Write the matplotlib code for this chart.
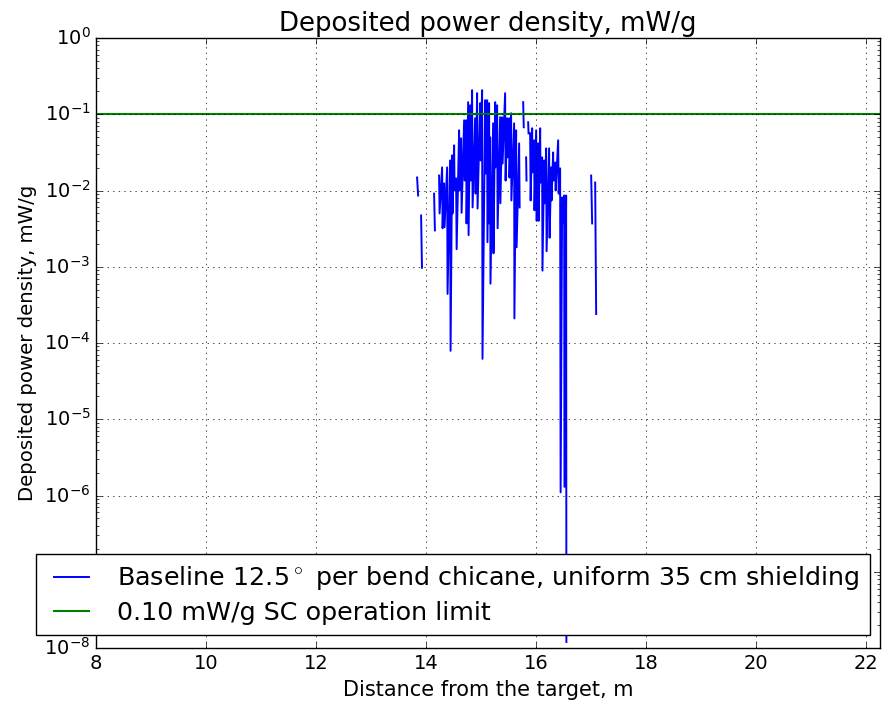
import numpy as np
import matplotlib
matplotlib.use("Agg")
import matplotlib.pyplot as plt

plt.style.use('classic')

nan = np.nan
# distance from the target, m (nan = zero deposition -> gap on log axis)
dist = [13.836, 13.855, nan,
        13.909, 13.925, nan,
        14.145, 14.16, nan,
        14.236, 14.245, 14.291, 14.30, 14.327, 14.335, 14.382, 14.39,
        14.436, 14.445, 14.473, 14.48, 14.509, 14.518, 14.545, 14.555,
        14.60, 14.61, 14.636, 14.645, 14.691, 14.70, 14.727, 14.735,
        14.764, 14.772, 14.80, 14.81, 14.836, 14.845, 14.891, 14.90,
        14.927, 14.935, 14.982, 14.99, 15.018, 15.025, 15.073, 15.08,
        15.109, 15.115, 15.145, 15.15, 15.164, 15.17, 15.218, 15.225,
        15.255, 15.26, 15.291, 15.30, 15.345, 15.35, 15.382, 15.39,
        15.436, 15.445, 15.473, 15.48, 15.509, 15.515, 15.545, 15.55,
        15.60, 15.605, 15.636, 15.645, 15.691, 15.70, nan,
        15.764, 15.775, nan,
        15.818, 15.825, nan,
        15.855, 15.862, nan,
        15.891, 15.90, 15.927, 15.935, 15.964, 15.97, 16.0, 16.01,
        16.036, 16.045, 16.073, 16.08, 16.109, 16.115, 16.145, 16.155,
        16.182, 16.19, 16.236, 16.245, 16.273, 16.28, 16.309, 16.315,
        16.345, 16.355, 16.40, 16.41, 16.436, 16.445, 16.473, 16.48,
        16.509, 16.515, 16.545, 16.55, nan,
        17.0, 17.018, nan,
        17.073, 17.091]

# deposited power density, mW/g
power = [0.0148, 0.0086, nan,
         0.0047, 0.00097, nan,
         0.0091, 0.0030, nan,
         0.0157, 0.0050, 0.0201, 0.0032, 0.0124, 0.0033, 0.0201, 0.00044,
         0.0248, 7.9e-5, 0.0289, 0.0050, 0.0391, 0.0100, 0.0144, 0.0017,
         0.0616, 0.0100, 0.0483, 0.0051, 0.0834, 0.0135, 0.0834, 0.0037,
         0.144, 0.0026, 0.131, 0.0135, 0.207, 0.0060, 0.0886, 0.0091,
         0.189, 0.0058, 0.140, 0.0248, 0.207, 6.2e-5, 0.153, 0.0167,
         0.153, 0.0021, 0.140, 0.0037, 0.0498, 0.00060, 0.0761, 0.0015,
         0.144, 0.0201, 0.131, 0.0032, 0.0914, 0.0068, 0.0914, 0.0226,
         0.189, 0.0135, 0.0886, 0.0272, 0.0886, 0.0148, 0.103, 0.0074,
         0.0761, 0.00021, 0.0616, 0.0018, 0.0415, 0.0060, nan,
         0.144, 0.0675, nan,
         0.0272, 0.0135, nan,
         0.0785, 0.0562, nan,
         0.0562, 0.0074, 0.0655, 0.0173, 0.0455, 0.0055, 0.0616, 0.0040,
         0.0415, 0.0040, 0.0655, 0.0127, 0.0272, 0.00089, 0.0248, 0.0068,
         0.0357, 0.0016, 0.0357, 0.0024, 0.0201, 0.0074, 0.0316, 0.0135,
         0.0233, 0.0100, 0.0455, 0.0091, 0.0195, 1.1e-6, 0.0081, 0.0037,
         0.0086, 1.3e-6, 0.0086, 1.2e-8, nan,
         0.0157, 0.0037, nan,
         0.0127, 0.00024]

limit = 0.10

fig = plt.figure(figsize=(8.84, 7.05), dpi=100)
ax = fig.add_axes([96/884, 1 - 648/705, 784/884, 610/705])

ax.plot(dist, power, color='b', lw=1.4,
        label=r'Baseline 12.5$^\circ$ per bend chicane, uniform 35 cm shielding')
ax.axhline(limit, color='g', lw=1.5, label='0.10 mW/g SC operation limit')

ax.set_yscale('log')
ax.set_xlim(8, 22.25)
ax.set_ylim(1e-8, 1)
ax.grid(True)
ax.tick_params(labelsize=14)
ax.set_xlabel('Distance from the target, m', fontsize=15)
ax.set_ylabel('Deposited power density, mW/g', fontsize=14.2)
ax.set_title('Deposited power density, mW/g', fontsize=18.7)

ax.legend(loc='lower left', bbox_to_anchor=(36/884, 1 - 635/705),
          bbox_transform=fig.transFigure, borderaxespad=0, fontsize=18.25,
          handlelength=2.0, labelspacing=0.33)

plt.savefig('out.png', dpi=100)
